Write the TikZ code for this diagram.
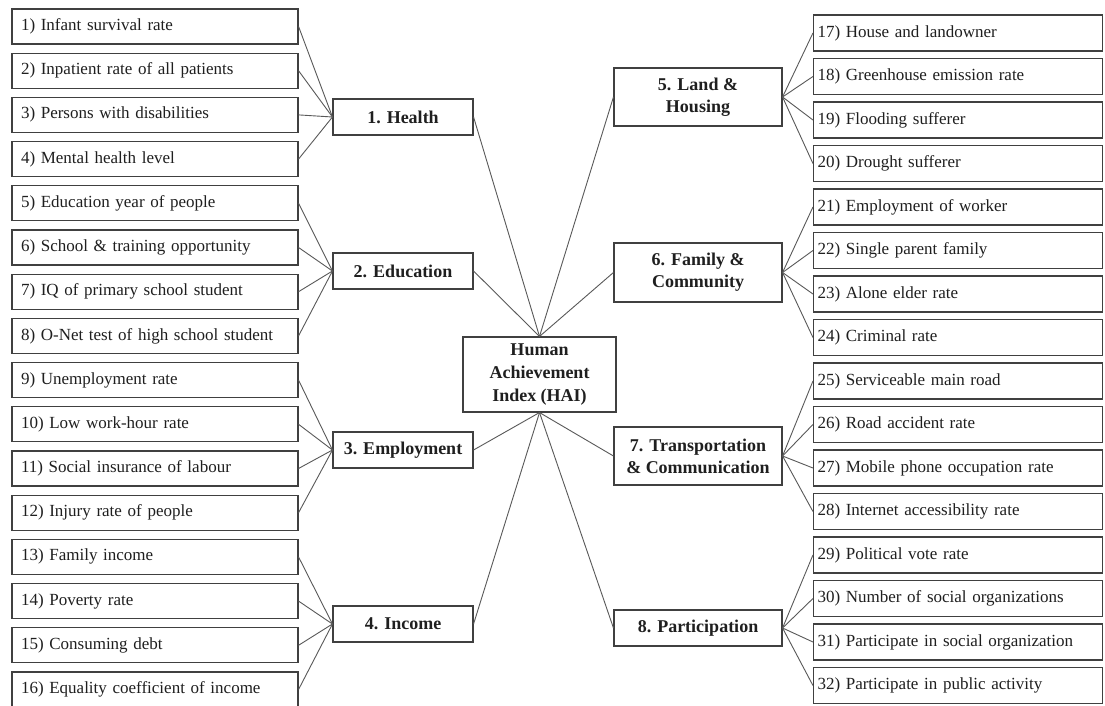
\documentclass[tikz,border=0pt]{standalone}
\usepackage{fontspec}
\setmainfont{Liberation Serif}
\definecolor{boxcol}{gray}{0.25}
\definecolor{linecol}{gray}{0.35}
\definecolor{textcol}{gray}{0.12}
\begin{document}
\begin{tikzpicture}[x=1pt,y=-1pt,
  box/.style={draw=boxcol, line width=1.1pt, rectangle, text=textcol},
  leafL/.style={box, inner xsep=9pt, inner ysep=0pt, minimum height=35pt,
    text width=268pt, align=left, font=\fontsize{17}{20}\selectfont},
  leafR/.style={box, inner xsep=4pt, inner ysep=0pt, minimum height=36pt,
    text width=281pt, align=left, font=\fontsize{17}{20}\selectfont},
  catL/.style={box, inner sep=0pt, minimum width=140pt, minimum height=36pt,
    align=center, font=\fontsize{18}{22}\selectfont\bfseries},
  catR/.style={box, inner sep=0pt, minimum width=168pt,
    align=center, font=\fontsize{18}{22}\selectfont\bfseries},
  hai/.style={box, inner sep=0pt, minimum width=153pt, minimum height=75pt,
    align=center, font=\fontsize{18}{23}\selectfont\bfseries},
  conn/.style={draw=linecol, line width=0.9pt}
]
\path[use as bounding box, fill=white] (0,0) rectangle (1105,706);

% left-hand indicators 1-16
\foreach \t [count=\i] in {
  {1) Infant survival rate},
  {2) Inpatient rate of all patients},
  {3) Persons with disabilities},
  {4) Mental health level},
  {5) Education year of people},
  {6) School \& training opportunity},
  {7) IQ of primary school student},
  {8) O-Net test of high school student},
  {9) Unemployment rate},
  {10) Low work-hour rate},
  {11) Social insurance of labour},
  {12) Injury rate of people},
  {13) Family income},
  {14) Poverty rate},
  {15) Consuming debt},
  {16) Equality coefficient of income}} {
  \node[leafL] (L\i) at (155, {26.5+44.2*(\i-1)}) {\t};
}

% right-hand indicators 17-32
\foreach \t [count=\k] in {
  {17) House and landowner},
  {18) Greenhouse emission rate},
  {19) Flooding sufferer},
  {20) Drought sufferer},
  {21) Employment of worker},
  {22) Single parent family},
  {23) Alone elder rate},
  {24) Criminal rate},
  {25) Serviceable main road},
  {26) Road accident rate},
  {27) Mobile phone occupation rate},
  {28) Internet accessibility rate},
  {29) Political vote rate},
  {30) Number of social organizations},
  {31) Participate in social organization},
  {32) Participate in public activity}} {
  \pgfmathtruncatemacro\i{\k+16}
  \node[leafR] (R\i) at (958, {33+43.5*(\k-1)}) {\t};
}

% domains
\node[catL] (C1) at (403,117) {1. Health};
\node[catL] (C2) at (403,271) {2. Education};
\node[catL] (C3) at (403,450) {3. Employment};
\node[catL] (C4) at (403,624) {4. Income};
\node[catR, minimum height=58pt] (C5) at (698,97) {5. Land \&\\Housing};
\node[catR, minimum height=59pt] (C6) at (698,272.5) {6. Family \&\\Community};
\node[catR, minimum height=58pt] (C7) at (698,456) {7. Transportation\\\& Communication};
\node[catR, minimum height=36pt] (C8) at (698,628) {8. Participation};

% index
\node[hai] (H) at (539.5,374.5) {Human\\Achievement\\Index (HAI)};

% indicator links
\foreach \g in {1,...,4} {
  \foreach \k in {1,...,4} {
    \pgfmathtruncatemacro\i{4*(\g-1)+\k}
    \pgfmathtruncatemacro\j{\i+16}
    \pgfmathtruncatemacro\h{\g+4}
    \draw[conn] (L\i.east) -- (C\g.west);
    \draw[conn] (C\h.east) -- (R\j.west);
  }
}

% domain links
\draw[conn] (H.north) -- (C1.east);
\draw[conn] (H.north) -- (C2.east);
\draw[conn] (H.north) -- (C5.west);
\draw[conn] (H.north) -- (C6.west);
\draw[conn] (H.south) -- (C3.east);
\draw[conn] (H.south) -- (C4.east);
\draw[conn] (H.south) -- (C7.west);
\draw[conn] (H.south) -- (C8.west);
\end{tikzpicture}
\end{document}
